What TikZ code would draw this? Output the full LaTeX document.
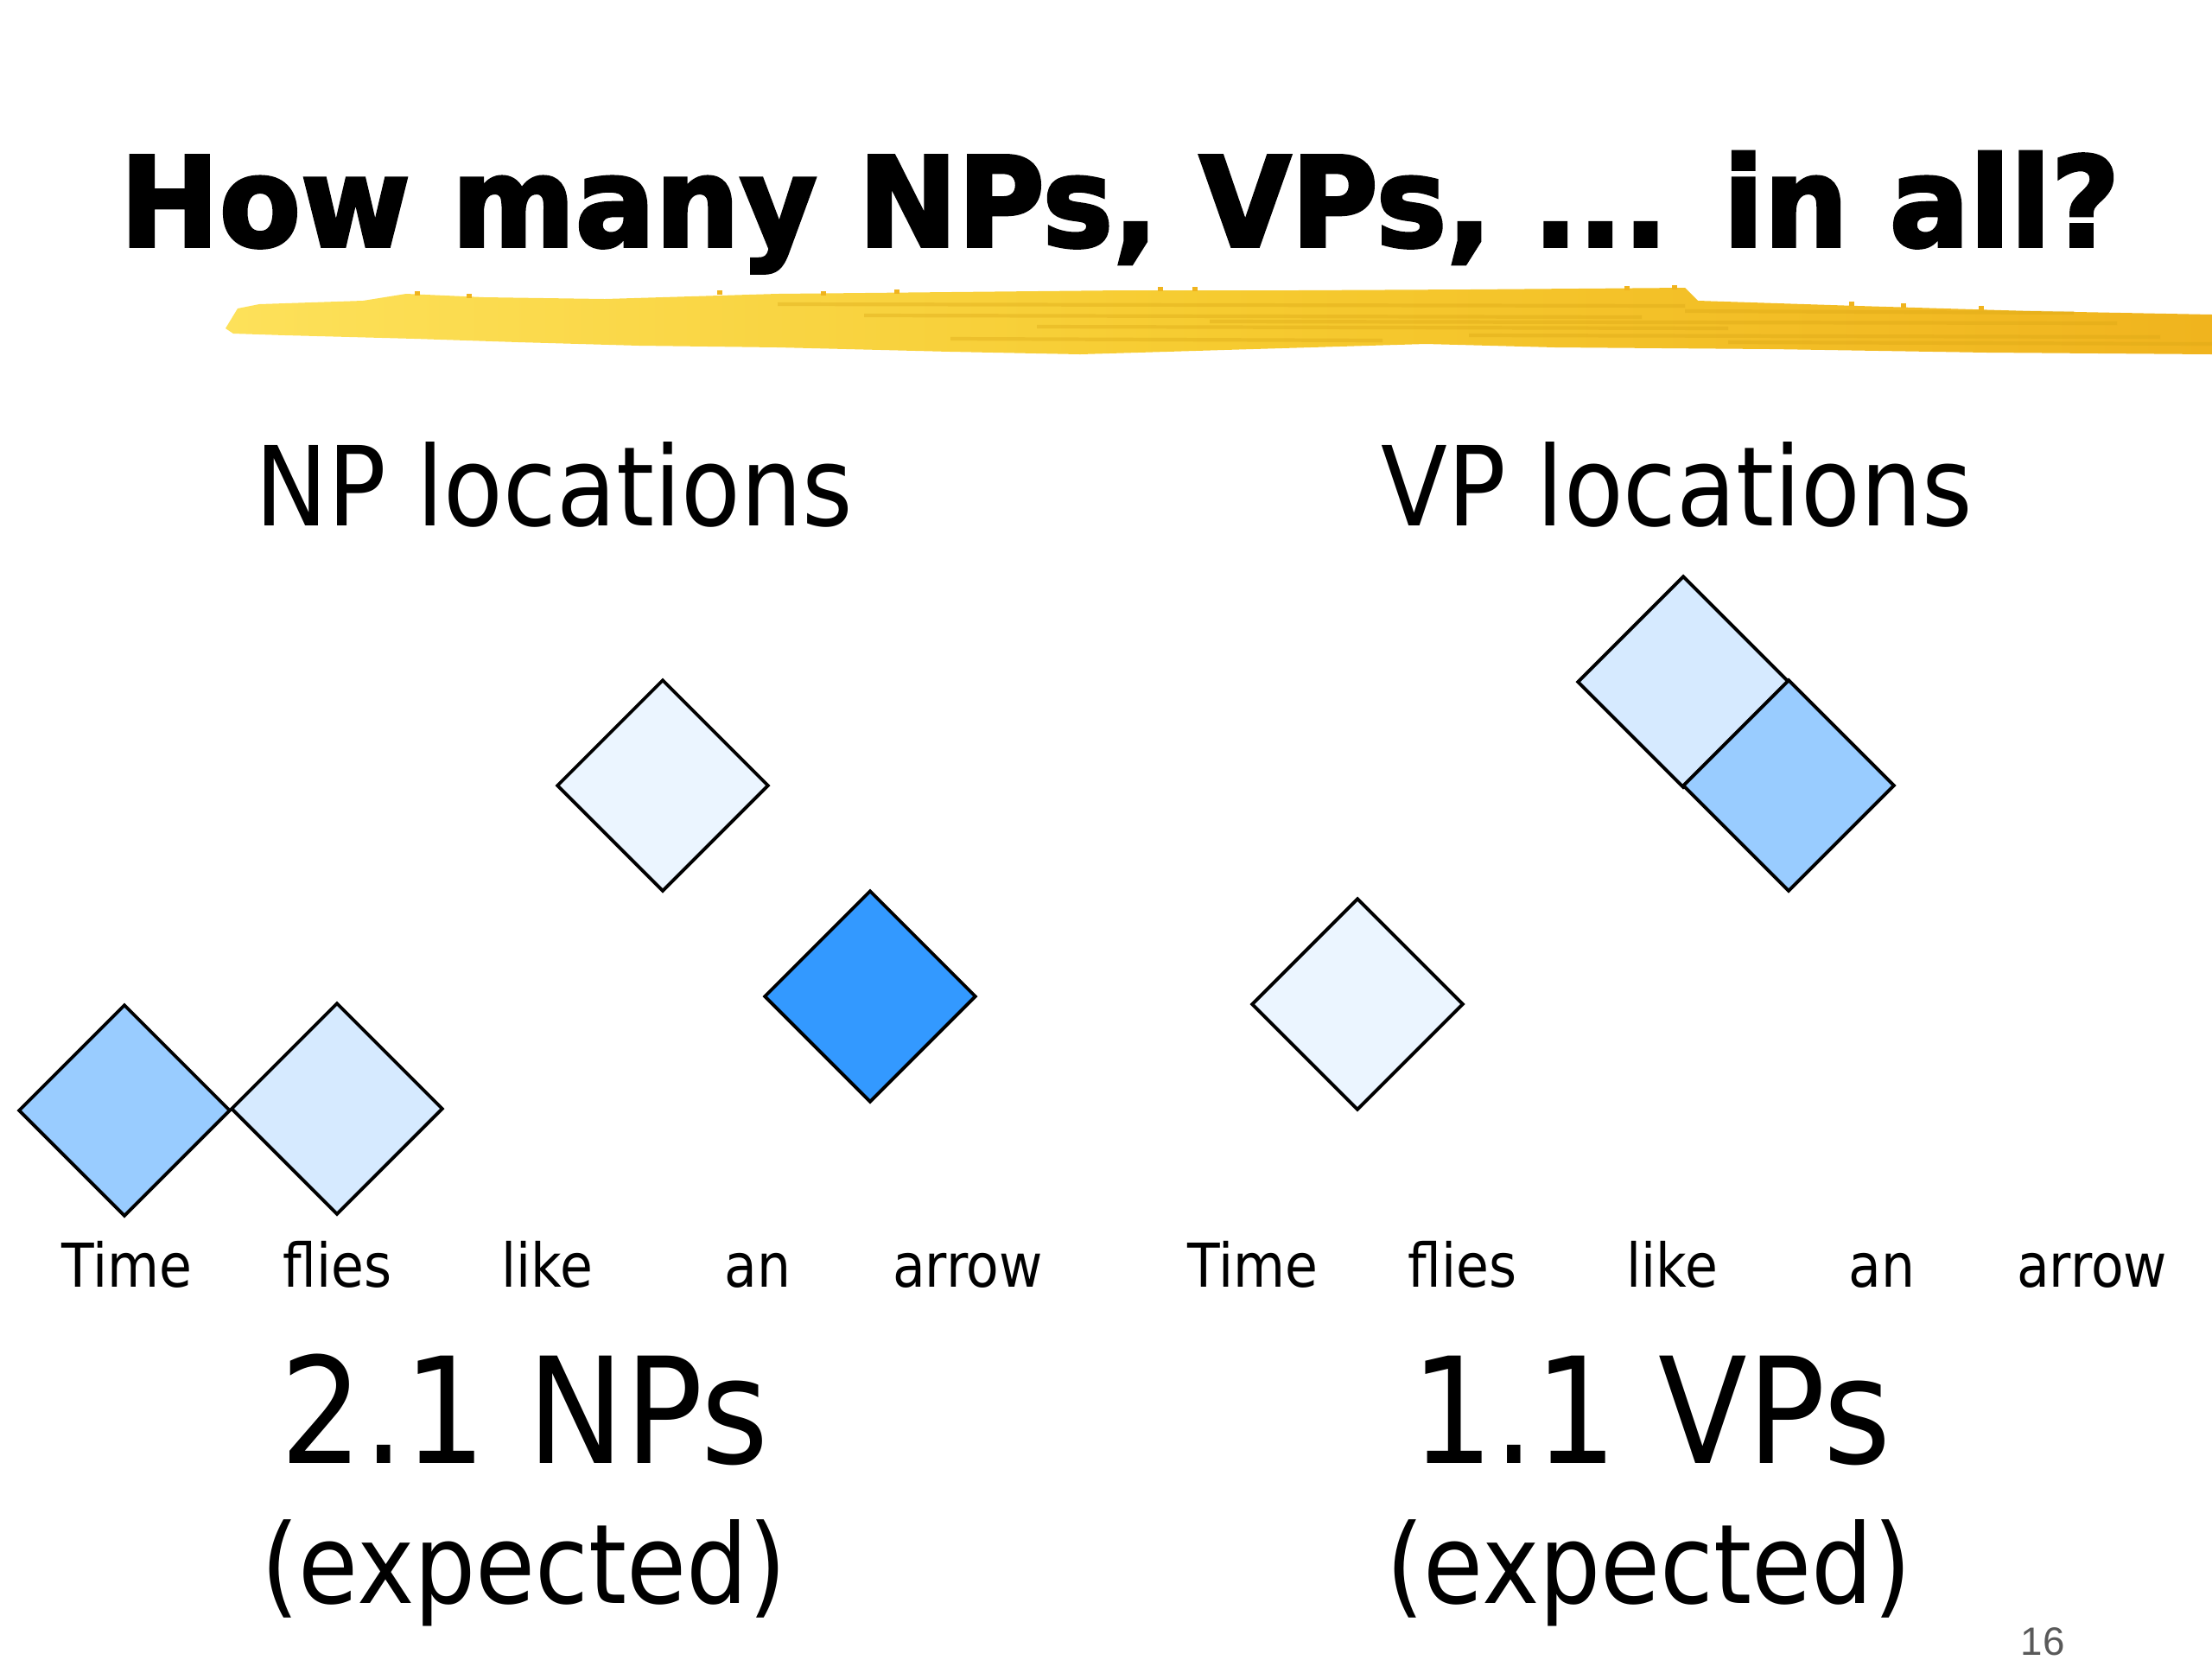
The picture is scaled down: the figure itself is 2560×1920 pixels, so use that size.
\documentclass[tikz,border=0pt]{standalone}
\usepackage{fontspec}
\setmainfont{DejaVu Sans}[FakeStretch=0.88]
\newfontfamily\titlefont{DejaVu Sans}[FakeStretch=0.952,FakeBold=2.5]
\newfontfamily\pagefont{Liberation Sans}
\usetikzlibrary{shapes.geometric}

\definecolor{cellpale}{HTML}{EBF5FF}
\definecolor{celllight}{HTML}{D6EAFF}
\definecolor{cellmid}{HTML}{99CCFF}
\definecolor{celldark}{HTML}{3399FF}
\definecolor{brushlight}{HTML}{FDE15A}
\definecolor{brushmid}{HTML}{F6CB30}
\definecolor{brushdark}{HTML}{F0B41E}
\definecolor{brushstreak}{HTML}{D9A514}

\newcommand*{\cellsize}{2.45cm}
\newcommand*{\wordy}{1489}
\newcommand*{\sumy}{1693}
\newcommand*{\expy}{1855}

\begin{document}
\begin{tikzpicture}
[
	x=0.01cm, y=-0.01cm,
	cell/.style={diamond,draw,line width=1.1pt,inner sep=0pt,minimum width=\cellsize,minimum height=\cellsize},
	word/.style={anchor=base,inner sep=0pt,font=\fontsize{19.9}{24}\selectfont},
	heading/.style={anchor=base,inner sep=0pt,font=\fontsize{36.3}{42}\selectfont},
	total/.style={anchor=base,inner sep=0pt,font=\fontsize{48.5}{56}\selectfont},
	streak/.style={brushstreak,opacity=0.35,line width=1.2pt}
]
	\useasboundingbox (0,0) rectangle (2560,1920);

	% brush stroke under the title
	\shade[left color=brushlight, right color=brushdark, middle color=brushmid]
		(261,380) -- (275,357) -- (300,352) -- (420,348) -- (470,340) -- (560,344) -- (700,346)
		-- (900,340) -- (1100,338) -- (1300,336) -- (1500,336) -- (1700,335) -- (1950,333)
		-- (1965,348) -- (2150,354) -- (2350,360) -- (2560,364)
		-- (2560,410) -- (2300,408) -- (2050,404) -- (1800,402) -- (1650,398) -- (1450,404)
		-- (1250,410) -- (1100,407) -- (900,402) -- (740,400) -- (600,396) -- (480,392)
		-- (330,388) -- (270,386) -- cycle;
	\foreach \a/\b/\h in {900/1950/352, 1000/1900/365, 1200/2000/378, 1400/2450/372, 1700/2500/388,
		1950/2400/360, 1100/1600/392, 2000/2560/396}
		\draw[streak] (\a,\h) -- (\b,\h+2);
	\foreach \sx/\sy in {480/337, 540/340, 830/336, 950/337, 1035/335, 1340/332, 1380/332,
		1880/331, 1935/330, 2140/349, 2200/351, 2290/354}
		\fill[brushdark] (\sx,\sy) rectangle ++(6,5);

	% title
	\node[anchor=base,inner sep=0pt,font=\titlefont\bfseries\fontsize{41}{48}\selectfont] (title)
		at (1296,285) {How many NPs, VPs, ... in all?};

	% headings
	\node[heading] (nphead) at (641,608) {NP locations};
	\node[heading] (vphead) at (1941,608) {VP locations};

	% NP cells
	\node[cell,fill=cellmid] (np1) at (144,1285) {};
	\node[cell,fill=celllight] (np2) at (390,1283) {};
	\node[cell,fill=cellpale] (np3) at (767,909) {};
	\node[cell,fill=celldark] (np4) at (1007,1153) {};

	% VP cells
	\node[cell,fill=cellpale] (vp1) at (1571,1162) {};
	\node[cell,fill=celllight] (vp2) at (1948,789) {};
	\node[cell,fill=cellmid] (vp3) at (2070,909) {};

	% words
	\foreach \w [count=\i from 0] in {Time,flies,like,an,arrow}
	{
		\node[word] (npw\i) at ({147+243.25*\i},\wordy) {\w};
		\node[word] (vpw\i) at ({1450+242.75*\i},\wordy) {\w};
	}

	% totals
	\node[total] (nptotal) at (607,\sumy) {2.1 NPs};
	\node[heading] (npexp) at (606,\expy) {(expected)};
	\node[total] (vptotal) at (1911,\sumy) {1.1 VPs};
	\node[heading] (vpexp) at (1908,\expy) {(expected)};

	% slide number
	\node[anchor=base,inner sep=0pt,text=black!65,font=\pagefont\fontsize{13}{15}\selectfont] (pageno)
		at (2364,1915) {16};

\end{tikzpicture}
\end{document}
